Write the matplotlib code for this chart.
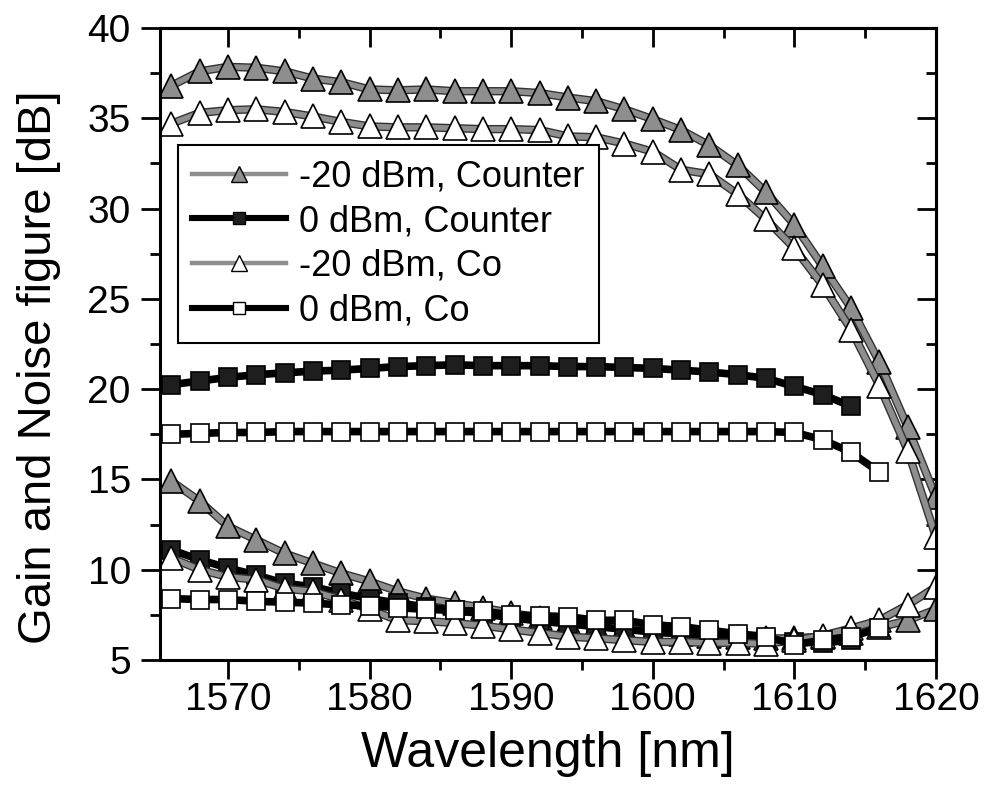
import matplotlib
matplotlib.use('Agg')
import matplotlib.pyplot as plt
import matplotlib.patheffects as pe
from matplotlib.lines import Line2D
from matplotlib.ticker import MultipleLocator

plt.rcParams['font.family'] = ['Liberation Sans', 'DejaVu Sans']

# wavelength grids [nm]
wl_m20 = [1566, 1568, 1570, 1572, 1574, 1576, 1578, 1580, 1582, 1584,
          1586, 1588, 1590, 1592, 1594, 1596, 1598, 1600, 1602, 1604,
          1606, 1608, 1610, 1612, 1614, 1616, 1618, 1620]
wl_0cnt = [1566, 1568, 1570, 1572, 1574, 1576, 1578, 1580, 1582, 1584,
           1586, 1588, 1590, 1592, 1594, 1596, 1598, 1600, 1602, 1604,
           1606, 1608, 1610, 1612, 1614]
wl_0co = [1566, 1568, 1570, 1572, 1574, 1576, 1578, 1580, 1582, 1584,
          1586, 1588, 1590, 1592, 1594, 1596, 1598, 1600, 1602, 1604,
          1606, 1608, 1610, 1612, 1614, 1616]

# -20 dBm, counter pumped
gain_m20_cnt = [36.8, 37.6, 37.85, 37.8, 37.6, 37.2, 37.0, 36.6, 36.55, 36.6,
                36.5, 36.5, 36.5, 36.4, 36.15, 35.95, 35.5, 34.95, 34.35, 33.5,
                32.4, 30.9, 29.1, 26.8, 24.5, 21.5, 17.9, 14.0]
nf_m20_cnt = [14.9, 13.8, 12.4, 11.65, 10.9, 10.35, 9.8, 9.35, 8.8, 8.4,
              8.15, 7.9, 7.6, 7.35, 7.1, 6.9, 6.75, 6.6, 6.45, 6.35,
              6.3, 6.2, 6.2, 6.3, 6.5, 6.8, 7.2, 7.8]

# 0 dBm, counter pumped
gain_0_cnt = [20.25, 20.45, 20.65, 20.8, 20.9, 21.0, 21.05, 21.15, 21.25, 21.3,
              21.35, 21.3, 21.3, 21.3, 21.25, 21.25, 21.2, 21.15, 21.05, 20.95,
              20.8, 20.6, 20.15, 19.7, 19.05]
nf_0_cnt = [11.1, 10.55, 10.1, 9.7, 9.25, 9.05, 8.7, 8.4, 8.15, 7.95,
            7.75, 7.55, 7.35, 7.15, 7.0, 6.85, 6.7, 6.55, 6.45, 6.35,
            6.2, 6.1, 6.0, 5.95, 6.1]

# -20 dBm, co pumped
gain_m20_co = [34.7, 35.3, 35.45, 35.5, 35.35, 35.1, 34.8, 34.55, 34.5, 34.5,
               34.45, 34.4, 34.4, 34.35, 34.0, 33.95, 33.6, 33.15, 32.15, 31.9,
               30.8, 29.4, 27.8, 25.75, 23.3, 20.2, 16.6, 11.8]
nf_m20_co = [10.65, 10.0, 9.6, 9.45, 8.95, 8.8, 8.35, 7.8, 7.2, 7.15,
             7.05, 6.9, 6.7, 6.5, 6.3, 6.2, 6.1, 6.0, 6.0, 5.95,
             5.95, 5.9, 6.1, 6.35, 6.75, 7.2, 8.05, 9.05]

# 0 dBm, co pumped
gain_0_co = [17.5, 17.55, 17.6, 17.6, 17.65, 17.65, 17.65, 17.65, 17.65, 17.65,
             17.65, 17.65, 17.65, 17.65, 17.65, 17.65, 17.65, 17.65, 17.65, 17.65,
             17.65, 17.65, 17.6, 17.2, 16.5, 15.4]
nf_0_co = [8.4, 8.35, 8.35, 8.25, 8.2, 8.15, 8.05, 8.0, 7.9, 7.8,
           7.75, 7.7, 7.5, 7.45, 7.4, 7.2, 7.2, 6.95, 6.85, 6.65,
           6.45, 6.3, 5.85, 6.1, 6.3, 6.75]

labels = ['-20 dBm, Counter', '0 dBm, Counter', '-20 dBm, Co', '0 dBm, Co']

GRAY = '#8e8e8e'
styles = [
    dict(lc=GRAY, lw=4, outline=True, marker='^', mfc=GRAY, ms=17),
    dict(lc='black', lw=5.5, outline=False, marker='s', mfc='#1e1e1e', ms=13),
    dict(lc=GRAY, lw=4, outline=True, marker='^', mfc='white', ms=17),
    dict(lc='black', lw=5.5, outline=False, marker='s', mfc='white', ms=13),
]
series = [
    (wl_m20, [gain_m20_cnt, nf_m20_cnt]),
    (wl_0cnt, [gain_0_cnt, nf_0_cnt]),
    (wl_m20, [gain_m20_co, nf_m20_co]),
    (wl_0co, [gain_0_co, nf_0_co]),
]

fig = plt.figure(figsize=(9.85, 7.98), dpi=100)
ax = fig.add_axes([160 / 985, 1 - 660 / 798, 776 / 985, 632 / 798])

handles = []
for (wl, curves), st in zip(series, styles):
    effects = [pe.Stroke(linewidth=st['lw'] + 2, foreground='#333333'), pe.Normal()] if st['outline'] else None
    for y in curves:
        ax.plot(wl, y, color=st['lc'], lw=st['lw'], solid_capstyle='butt',
                path_effects=effects)
        ax.plot(wl, y, ls='none', marker=st['marker'], ms=st['ms'],
                mfc=st['mfc'], mec='black', mew=1.2)
    handles.append(Line2D([], [], color=st['lc'], lw=st['lw'] * 0.8,
                          marker=st['marker'], ms=st['ms'] * 0.7,
                          mfc=st['mfc'], mec='black', mew=1.0))

ax.set_xlim(1565.2, 1620)
ax.set_ylim(5, 40)
ax.xaxis.set_major_locator(MultipleLocator(10))
ax.xaxis.set_minor_locator(MultipleLocator(5))
ax.yaxis.set_major_locator(MultipleLocator(5))
ax.yaxis.set_minor_locator(MultipleLocator(2.5))

for side in ['left', 'right', 'top', 'bottom']:
    ax.spines[side].set_linewidth(2.2)

ax.tick_params(which='both', direction='out', top=False, right=False, width=2, labelsize=28)
ax.tick_params(which='major', length=14)
ax.tick_params(which='minor', length=7)
ax.tick_params(axis='y', pad=7)
ax.tick_params(axis='x', pad=2)

# inward ticks on the opposite sides
sec_x = ax.secondary_xaxis('top')
sec_x.xaxis.set_major_locator(MultipleLocator(10))
sec_x.xaxis.set_minor_locator(MultipleLocator(5))
sec_x.tick_params(which='both', direction='in', width=2, labeltop=False)
sec_x.tick_params(which='major', length=14)
sec_x.tick_params(which='minor', length=7)
sec_x.spines['top'].set_linewidth(2.2)
sec_y = ax.secondary_yaxis('right')
sec_y.yaxis.set_major_locator(MultipleLocator(5))
sec_y.yaxis.set_minor_locator(MultipleLocator(2.5))
sec_y.tick_params(which='both', direction='in', width=2, labelright=False)
sec_y.tick_params(which='major', length=14)
sec_y.tick_params(which='minor', length=7)
sec_y.spines['right'].set_linewidth(2.2)

ax.set_xlabel('Wavelength [nm]', fontsize=36, labelpad=9)
ax.set_ylabel('Gain and Noise figure [dB]', fontsize=34)
ax.yaxis.set_label_coords(-0.128, 0.464)

leg = ax.legend(handles, labels, loc='upper left', bbox_to_anchor=(0.023, 0.815),
                borderaxespad=0, fontsize=26, handlelength=2.6, handletextpad=0.35,
                labelspacing=0.27, borderpad=0.4, fancybox=False, framealpha=1,
                edgecolor='black')
leg.get_frame().set_linewidth(1.5)

fig.savefig('out.png', dpi=100)
